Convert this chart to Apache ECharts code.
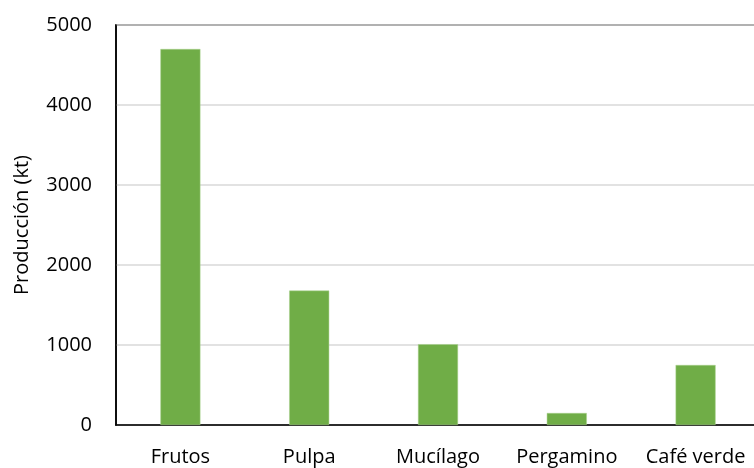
<!DOCTYPE html>
<html>
<head>
<meta charset="utf-8">
<script src="https://cdn.jsdelivr.net/npm/echarts@6/dist/echarts.min.js"></script>
<style>
  html, body { margin: 0; padding: 0; background: #fff; }
  #chart { width: 754px; height: 468px; }
</style>
</head>
<body>
<div id="chart"></div>
<script>
// Coffee processing streams and their production in kilotonnes
const categories = ['Frutos', 'Pulpa', 'Mucílago', 'Pergamino', 'Café verde'];
const produccion = [4700, 1680, 1010, 150, 750];
const yTicks = { min: 0, max: 5000, interval: 1000 };

const font = '"Open Sans", Lato, "Liberation Sans", sans-serif';

const chart = echarts.init(document.getElementById('chart'), null, { renderer: 'canvas' });
chart.setOption({
  animation: false,
  backgroundColor: '#ffffff',
  grid: {
    left: 116,
    top: 25,
    width: 644,
    height: 400,
    outerBoundsMode: 'none',
    containLabel: false,
    show: true,
    borderColor: '#000000',
    borderWidth: 1.5,
    backgroundColor: 'transparent'
  },
  xAxis: {
    type: 'category',
    data: categories,
    axisLine: { show: true, lineStyle: { color: '#000000', width: 1.5 } },
    axisTick: { show: false },
    axisLabel: { color: '#000000', fontSize: 20, fontFamily: font, margin: 22, interval: 0, hideOverlap: false }
  },
  yAxis: {
    type: 'value',
    min: yTicks.min,
    max: yTicks.max,
    interval: yTicks.interval,
    name: 'Producción (kt)',
    nameLocation: 'middle',
    nameGap: 84,
    nameTextStyle: { color: '#000000', fontSize: 20, fontFamily: font },
    axisLine: { show: true, lineStyle: { color: '#000000', width: 1.5 } },
    axisTick: { show: false },
    axisLabel: {
      color: '#000000', fontSize: 20, fontFamily: font, margin: 24,
      formatter: v => String(v)
    },
    splitLine: { show: true, lineStyle: { color: '#d9d9d9', width: 1.5 } }
  },
  series: [{
    type: 'bar',
    data: produccion,
    barWidth: 40,
    itemStyle: { color: '#70ad47', borderColor: '#a9d18e', borderWidth: 0.5 }
  }]
});
</script>
</body>
</html>
